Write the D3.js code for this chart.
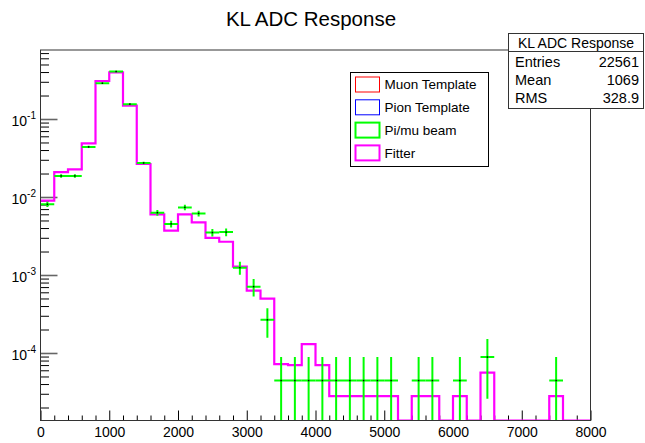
<!DOCTYPE html>
<html>
<head>
<meta charset="utf-8">
<script src="https://cdn.jsdelivr.net/npm/d3@7"></script>
<style>
  body { margin: 0; background: #fff; }
  svg { display: block; font-family: "Liberation Sans", Arial, Helvetica, sans-serif; }
</style>
</head>
<body>
<svg id="chart" width="645" height="443"></svg>
<script>
// 40 bins of 200 ADC counts covering 0..8000
const binLow = d3.range(0, 8000, 200);
const binWidth = 200;

// Pi/mu beam: entries per bin
const beamCounts = [182, 420, 420, 990, 6490, 9170, 3500, 616, 142, 102,
                    166, 139, 79, 80, 28, 16, 6, 1, 1, 1,
                    1, 1, 1, 1, 1, 1, 0, 1, 1, 0,
                    1, 0, 2, 0, 0, 0, 0, 1, 0, 0];

// Fitter: normalized content per bin
const fitterValues = [0.00898, 0.0209, 0.0226, 0.0488, 0.307, 0.397, 0.148, 0.0265, 0.0060, 0.0037,
                      0.0060, 0.00474, 0.0030, 0.00267, 0.00128, 0.000629, 0.000497, 7.2e-5, 7.0e-5, 1.3e-4,
                      7.0e-5, 2.8e-5, 2.8e-5, 2.8e-5, 2.8e-5, 2.8e-5, 0, 2.8e-5, 2.8e-5, 0,
                      2.8e-5, 0, 5.6e-5, 0, 0, 0, 0, 2.8e-5, 0, 0];

const xTickValues = [0, 1000, 2000, 3000, 4000, 5000, 6000, 7000, 8000];
const yDecadeValues = [1e-4, 1e-3, 1e-2, 1e-1];

const titleText = "KL ADC Response";
const legendLabels = ["Muon Template", "Pion Template", "Pi/mu beam", "Fitter"];
const legendColors = ["#ff0000", "#0000ff", "#00ff00", "#ff00ff"];
const legendWidths = [1, 1, 2, 2];
const statsTitle = "KL ADC Response";
const statsLabels = ["Entries", "Mean", "RMS"];
const statsValues = ["22561", "1069", "328.9"];

// ---- layout ----
const frame = { left: 40.5, right: 590.5, top: 50, bottom: 420.5 };
const yMin = 1.363e-5, yMax = 0.7668;

const svg = d3.select("#chart");
const x = d3.scaleLinear().domain([0, 8000]).range([frame.left, frame.right]);
const y = d3.scaleLog().domain([yMin, yMax]).range([frame.bottom, frame.top]);
const yc = v => y(Math.max(v, yMin));

svg.append("rect").attr("width", 645).attr("height", 443).attr("fill", "#fff");

svg.append("clipPath").attr("id", "plotClip")
  .append("rect")
  .attr("x", frame.left).attr("y", frame.top)
  .attr("width", frame.right - frame.left).attr("height", frame.bottom - frame.top);

// ---- title ----
svg.append("text")
  .attr("x", 311).attr("y", 26)
  .attr("text-anchor", "middle")
  .attr("font-size", 20.5)
  .attr("fill", "#000")
  .text(titleText);

// ---- axes ----
const xMinor = d3.range(0, 8001, 200).filter(v => v % 1000 !== 0);
svg.append("g")
  .attr("transform", `translate(0,${frame.bottom})`)
  .call(d3.axisBottom(x).tickValues(xMinor).tickFormat("").tickSizeInner(-5).tickSizeOuter(0))
  .call(g => g.select(".domain").remove())
  .call(g => g.selectAll("line").attr("stroke", "#000"));

svg.append("g")
  .attr("transform", `translate(0,${frame.bottom})`)
  .call(d3.axisBottom(x).tickValues(xTickValues).tickFormat(d3.format("d"))
        .tickSizeInner(-10).tickSizeOuter(0).tickPadding(7))
  .call(g => g.select(".domain").remove())
  .call(g => g.selectAll("line").attr("stroke", "#000"))
  .call(g => g.selectAll("text").attr("font-size", 14).attr("fill", "#000")
        .attr("font-family", "\"Liberation Sans\", Arial, sans-serif"));

const yMinor = [];
for (let e = -5; e <= -1; e++) {
  for (let m = 2; m <= 9; m++) {
    const v = m * Math.pow(10, e);
    if (v >= yMin && v <= yMax) yMinor.push(v);
  }
}
svg.append("g")
  .attr("transform", `translate(${frame.left},0)`)
  .call(d3.axisLeft(y).tickValues(yMinor).tickFormat("").tickSizeInner(-8.5).tickSizeOuter(0))
  .call(g => g.select(".domain").remove())
  .call(g => g.selectAll("line").attr("stroke", "#000"));

const yAxisMajor = svg.append("g")
  .attr("transform", `translate(${frame.left},0)`)
  .call(d3.axisLeft(y).tickValues(yDecadeValues).tickFormat(() => "")
        .tickSizeInner(-17).tickSizeOuter(0).tickPadding(4.5))
  .call(g => g.select(".domain").remove())
  .call(g => g.selectAll("line").attr("stroke", "#666").attr("stroke-width", 1.6));

yAxisMajor.selectAll(".tick text")
  .attr("font-size", 14)
  .attr("fill", "#000")
  .attr("dy", "0.43em")
  .attr("font-family", "\"Liberation Sans\", Arial, sans-serif")
  .each(function (d) {
    const t = d3.select(this);
    t.text(null);
    t.append("tspan").text("10");
    t.append("tspan").attr("font-size", 10).attr("dy", -6.5).text(String(Math.round(Math.log10(d))));
  });

// ---- fitter histogram (step outline) ----
const fitterPts = [];
fitterValues.forEach((v, i) => {
  fitterPts.push([x(binLow[i]), yc(v)]);
  fitterPts.push([x(binLow[i] + binWidth), yc(v)]);
});
svg.append("path")
  .attr("clip-path", "url(#plotClip)")
  .attr("d", d3.line()(fitterPts))
  .attr("fill", "none")
  .attr("stroke", "#ff00ff")
  .attr("stroke-width", 2.2)
  .attr("stroke-linejoin", "miter");

// ---- beam data with Poisson errors ----
const total = d3.sum(beamCounts);
const beam = beamCounts.map((n, i) => ({
  lo: binLow[i], hi: binLow[i] + binWidth, mid: binLow[i] + binWidth / 2,
  v: n / total, err: Math.sqrt(n) / total, n
})).filter(d => d.n > 0);

const dataG = svg.append("g").attr("clip-path", "url(#plotClip)");
dataG.selectAll("line.h").data(beam).join("line")
  .attr("x1", d => x(d.lo)).attr("x2", d => x(d.hi))
  .attr("y1", d => y(d.v)).attr("y2", d => y(d.v))
  .attr("stroke", "#00ff00").attr("stroke-width", 2);
dataG.selectAll("line.v").data(beam).join("line")
  .attr("x1", d => x(d.mid)).attr("x2", d => x(d.mid))
  .attr("y1", d => yc(d.v - d.err) + (d.v - d.err <= yMin ? 2 : 0))
  .attr("y2", d => yc(d.v + d.err))
  .attr("stroke", "#00ff00").attr("stroke-width", 2);
dataG.selectAll("rect.m").data(beam).join("rect")
  .attr("x", d => x(d.mid) - 0.75).attr("y", d => y(d.v) - 0.75)
  .attr("width", 1.5).attr("height", 1.5)
  .attr("fill", "#000");

// ---- frame ----
svg.append("rect")
  .attr("x", frame.left).attr("y", frame.top)
  .attr("width", frame.right - frame.left).attr("height", frame.bottom - frame.top)
  .attr("fill", "none").attr("stroke", "#333").attr("stroke-width", 1);

// ---- legend ----
const leg = svg.append("g");
leg.append("rect")
  .attr("x", 350.5).attr("y", 72.5).attr("width", 138).attr("height", 94)
  .attr("fill", "#fff").attr("stroke", "#000").attr("stroke-width", 1);
legendLabels.forEach((lab, i) => {
  const cy = 84.5 + i * 22.8;
  leg.append("rect")
    .attr("x", 355.5).attr("y", cy - 7.5).attr("width", 24).attr("height", 15)
    .attr("fill", "none").attr("stroke", legendColors[i]).attr("stroke-width", legendWidths[i]);
  leg.append("text")
    .attr("x", 384.5).attr("y", cy + 4.8)
    .attr("font-size", 13.5).attr("fill", "#000")
    .text(lab);
});

// ---- statistics box ----
const st = svg.append("g");
st.append("rect")
  .attr("x", 508.5).attr("y", 33.5).attr("width", 135).attr("height", 75)
  .attr("fill", "#fff").attr("stroke", "#333").attr("stroke-width", 1);
st.append("line")
  .attr("x1", 508.5).attr("x2", 643.5).attr("y1", 51.5).attr("y2", 51.5)
  .attr("stroke", "#333");
st.append("text")
  .attr("x", 576).attr("y", 47.5).attr("text-anchor", "middle")
  .attr("font-size", 14).attr("fill", "#000")
  .text(statsTitle);
statsLabels.forEach((lab, i) => {
  const by = 66.7 + i * 18.3;
  st.append("text").attr("x", 515).attr("y", by)
    .attr("font-size", 14.5).attr("fill", "#000").text(lab);
  st.append("text").attr("x", 639).attr("y", by).attr("text-anchor", "end")
    .attr("font-size", 14.5).attr("fill", "#000").text(statsValues[i]);
});
</script>
</body>
</html>
